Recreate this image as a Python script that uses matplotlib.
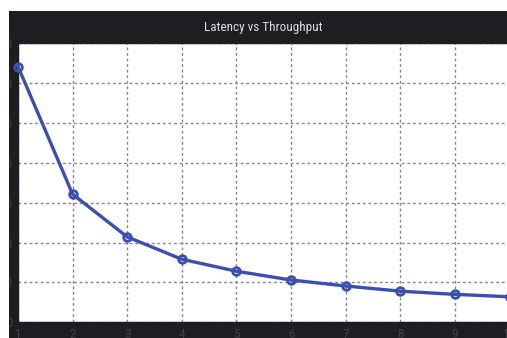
import matplotlib
matplotlib.use("Agg")
import matplotlib.pyplot as plt
from matplotlib import font_manager
from matplotlib.patches import Rectangle

# Throughput levels and measured latency
throughput = [1, 2, 3, 4, 5, 6, 7, 8, 9, 10]
latency = [64.1, 32.1, 21.4, 15.8, 12.8, 10.6, 9.1, 7.8, 7.0, 6.4]
x_ticks = [1, 2, 3, 4, 5, 6, 7, 8, 9, 10]
y_ticks = [0, 10, 20, 30, 40, 50, 60, 70]
title = "Latency vs Throughput"

W, H = 507, 338
BG = "#1c1e22"
LABEL = "#3e4146"
LINE = "#3b4fae"


def narrow_font():
    """Pick a condensed sans face if one is available."""
    for name in ["Liberation Sans Narrow", "Roboto Condensed",
                 "Open Sans Condensed", "DejaVu Sans Condensed"]:
        try:
            font_manager.findfont(font_manager.FontProperties(family=name),
                                  fallback_to_default=False)
            return font_manager.FontProperties(family=name)
        except Exception:
            pass
    return font_manager.FontProperties(family="DejaVu Sans", stretch="condensed")


fp = narrow_font()

fig = plt.figure(figsize=(W / 100, H / 100), dpi=100)
fig.patch.set_facecolor("white")

# dark panel behind the plot
fig.add_artist(Rectangle((9 / W, 0), 1 - 9 / W, (H - 11) / H,
                         transform=fig.transFigure, facecolor=BG,
                         edgecolor="none", zorder=-5))

left, right = 18 / W, 509.6 / W
bottom, top = (H - 322.3) / H, (H - 43) / H
ax = fig.add_axes([left, bottom, right - left, top - bottom])
ax.set_facecolor("white")

ax.plot(throughput, latency, color=LINE, lw=2.4, marker="o", ms=5.5,
        mfc="none", mec=LINE, mew=2.0, clip_on=False, zorder=3)

ax.set_xlim(1, 10)
ax.set_ylim(0, 70)
ax.set_xticks(x_ticks)
ax.set_yticks(y_ticks)
ax.grid(True, color="#858585", linestyle=(0, (2.0, 2.0)), lw=1.0)
ax.tick_params(length=0, labelsize=9.5, colors=LABEL, pad=4)
for lab in ax.get_xticklabels() + ax.get_yticklabels():
    lab.set_fontproperties(fp)
    lab.set_fontsize(9.5)
for s in ax.spines.values():
    s.set_color(BG)
    s.set_linewidth(1.0)

fig.text((18 + 509.6) / 2 / W, (H - 27) / H, title, ha="center", va="center",
         color="#dcdcdc", fontproperties=fp, fontsize=9.5)

# white margins over the panel edges
fig.add_artist(Rectangle((0, 0), 9 / W, 1, transform=fig.transFigure,
                         facecolor="white", edgecolor="none", zorder=20))
fig.add_artist(Rectangle((0, (H - 11) / H), 1, 11 / H,
                         transform=fig.transFigure, facecolor="white",
                         edgecolor="none", zorder=20))

fig.savefig("out.png", dpi=100, facecolor=fig.get_facecolor())
